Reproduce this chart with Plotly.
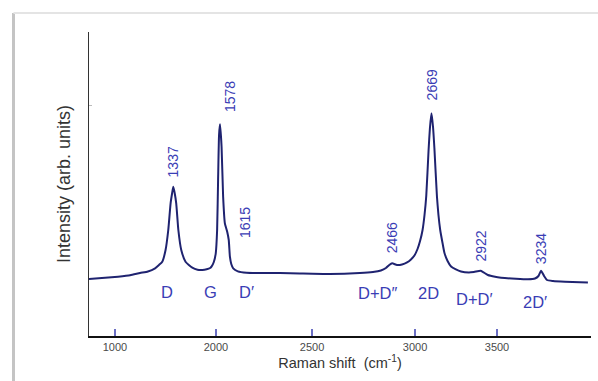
import plotly.graph_objects as go

# ---- data ----
WAVENUMBER = [902, 985, 1052, 1114, 1165, 1206, 1243, 1263, 1280, 1297, 1311, 1323, 1331, 1337,
              1344, 1352, 1363, 1378, 1400, 1435, 1462, 1487, 1509, 1527, 1534, 1546, 1556, 1563,
              1568, 1573, 1578, 1586, 1594, 1603, 1615, 1623, 1629, 1636, 1646, 1670, 1715, 1799,
              1887, 1990, 2145, 2299, 2367, 2408, 2434, 2451, 2466, 2491, 2517, 2543, 2563, 2581,
              2597, 2610, 2623, 2633, 2642, 2654, 2661, 2669, 2677, 2684, 2697, 2705, 2714, 2726,
              2736, 2752, 2770, 2795, 2821, 2862, 2888, 2922, 2935, 2960, 2997, 3028, 3105, 3167,
              3203, 3221, 3234, 3250, 3265, 3296, 3358, 3435, 3476]
INTENSITY = [18.75, 19.14, 19.51, 19.97, 20.72, 21.22, 22.27, 23.36, 24.44, 28.29, 34.87, 43.65, 47.04, 49.11,
             47.04, 43.65, 34.87, 28.29, 24.44, 22.47, 21.78, 21.71, 21.94, 22.37, 22.80, 24.34, 27.20, 34.87,
             51.32, 66.12, 69.64, 62.27, 45.82, 37.07, 34.31, 31.58, 26.09, 23.68, 22.27, 21.28, 20.82, 20.72,
             20.72, 20.56, 20.39, 20.72, 21.05, 21.55, 22.37, 23.36, 23.91, 23.36, 23.52, 24.18, 25.16, 26.48,
             28.62, 31.25, 34.87, 39.80, 46.05, 61.18, 68.42, 73.26, 68.75, 61.84, 46.05, 39.80, 34.87, 30.59,
             27.30, 24.67, 22.86, 21.88, 21.22, 20.89, 21.05, 21.45, 21.05, 20.07, 19.47, 19.18, 18.82, 18.65,
             18.91, 19.74, 21.48, 19.74, 18.42, 18.09, 17.83, 17.66, 17.60]
assert len(WAVENUMBER) == len(INTENSITY)

PEAK_LABELS = ["1337", "1578", "1615", "2466", "2669", "2922", "3234"]
MODE_LABELS = ["D", "G", "D′", "D+D″", "2D", "D+D′", "2D′"]
TICK_TEXT = ["1000", "2000", "2500", "3000", "3500"]

# ---- layout parameters ----
peak_label_y = [57.2, 78.6, 37.2, 32.2, 82.6, 29.6, 28.9]
peak_label_xshift = [0, 10, 18, 0, 0, 0, 0]
mode_label_x = [1304, 1531, 1712, 2393, 2651, 2893, 3203]
mode_label_y = [14.5, 14.5, 14.5, 14.1, 14.1, 12.2, 11.2]
tick_pos = [1036, 1557, 2053, 2584, 3007]

LINE_COLOR = "#1f2370"
LABEL_COLOR = "#3a3db5"
FONT = "Arial, Liberation Sans, sans-serif"

fig = go.Figure()
fig.add_trace(go.Scatter(
    x=WAVENUMBER, y=INTENSITY, mode="lines",
    line=dict(color=LINE_COLOR, width=2, shape="spline", smoothing=0.5),
    hoverinfo="skip", showlegend=False,
))

annotations = []
for lab, y, xs in zip(PEAK_LABELS, peak_label_y, peak_label_xshift):
    annotations.append(dict(x=float(lab), y=y, xref="x", yref="y", text=lab, textangle=-90,
                            showarrow=False, xshift=xs,
                            font=dict(family=FONT, size=14, color=LABEL_COLOR)))
for lab, x, y in zip(MODE_LABELS, mode_label_x, mode_label_y):
    annotations.append(dict(x=x, y=y, xref="x", yref="y", text=lab, showarrow=False,
                            font=dict(family=FONT, size=16.5, color=LABEL_COLOR)))

shapes = [
    # page frame shadow (left and top)
    dict(type="line", xref="paper", yref="paper", x0=-0.1504, x1=-0.1504, y0=1.0625, y1=-0.16,
         line=dict(color="#c4c4c4", width=3)),
    dict(type="line", xref="paper", yref="paper", x0=-0.1504, x1=1.02, y0=1.0625, y1=1.0625,
         line=dict(color="#e4e4e4", width=2)),
]

fig.update_layout(
    width=598, height=381,
    margin=dict(l=89, r=7, t=32, b=45, autoexpand=False),
    paper_bgcolor="white", plot_bgcolor="white",
    font=dict(family=FONT, color="#333333"),
    annotations=annotations,
    shapes=shapes,
    xaxis=dict(
        range=[902, 3492], showgrid=False, zeroline=False, automargin=False,
        showline=True, linecolor="#111111", linewidth=2,
        tickmode="array", tickvals=tick_pos, ticktext=TICK_TEXT,
        ticks="inside", ticklen=7, tickwidth=1.5, tickcolor="#6b6fc4",
        tickfont=dict(family=FONT, size=11, color="#4a4a4a"),
        title=dict(text="Raman shift  (cm<sup>-1</sup>)", standoff=0,
                   font=dict(family=FONT, size=14.5, color="#333333")),
    ),
    yaxis=dict(
        range=[0, 100], showgrid=False, zeroline=False, automargin=False,
        showline=True, linecolor="#333333", linewidth=1.5,
        tickmode="array", tickvals=[75.7], showticklabels=False,
        ticks="inside", ticklen=3, tickcolor="#bbbbbb",
        title=dict(text="Intensity (arb. units)", standoff=12,
                   font=dict(family=FONT, size=18, color="#333333")),
    ),
)

fig.write_html("out.html",
               config={"displayModeBar": False, "staticPlot": True},
               post_script="document.body.style.margin='0';document.body.style.overflow='hidden';")
